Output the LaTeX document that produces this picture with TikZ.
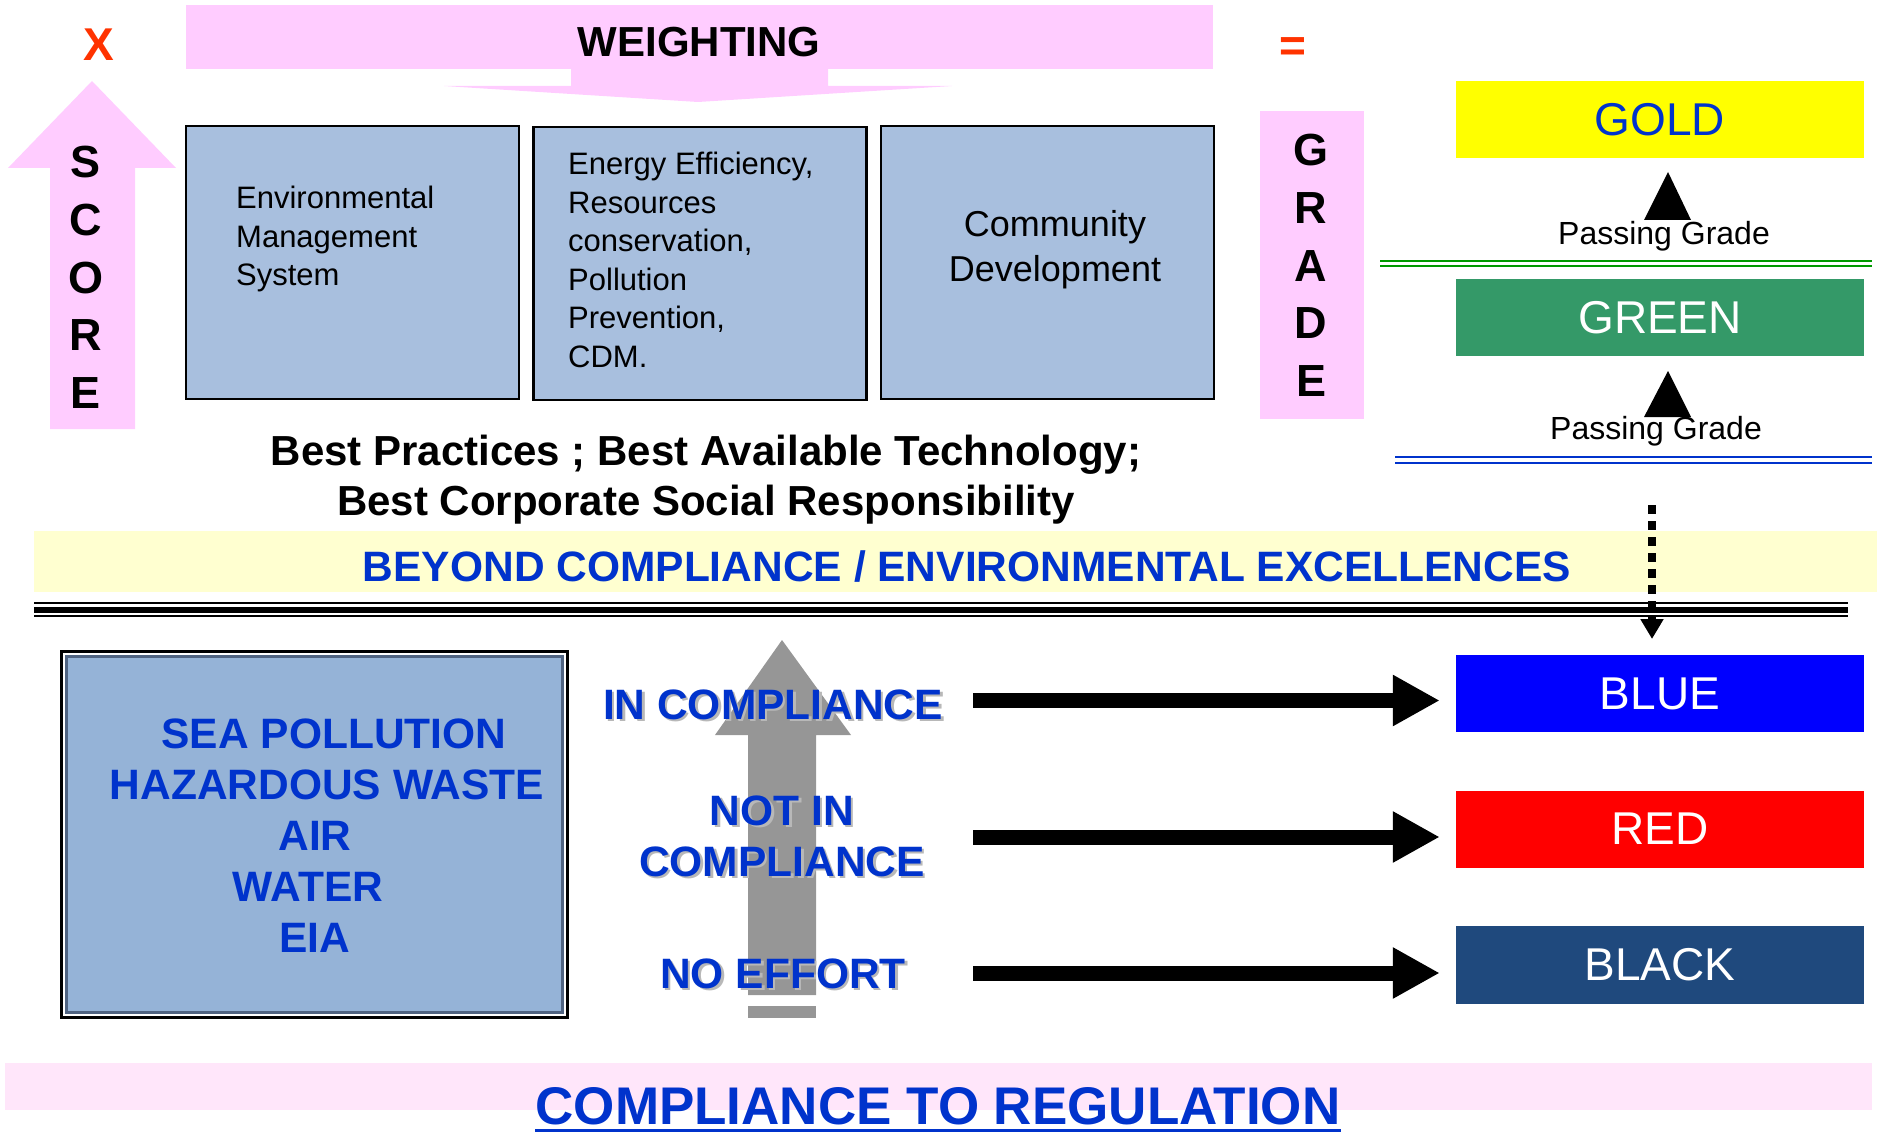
\documentclass[tikz,border=0pt]{standalone}
\usepackage{fontspec}
\setmainfont{Liberation Sans}
\usepackage{xcolor}
\usepackage{tikz}
\usetikzlibrary{arrows.meta, positioning, calc}

\definecolor{weightpink}{RGB}{255,204,255}
\definecolor{boxblue}{RGB}{168,191,222}
\definecolor{lawblue}{RGB}{149,179,215}
\definecolor{lawedge}{RGB}{80,100,130}
\definecolor{textblue}{RGB}{0,51,204}
\definecolor{beyondyellow}{RGB}{255,255,208}
\definecolor{regpink}{RGB}{255,230,250}
\definecolor{signred}{RGB}{255,51,0}
\definecolor{goldfill}{RGB}{255,255,0}
\definecolor{greenfill}{RGB}{52,153,104}
\definecolor{blackfill}{RGB}{31,73,125}
\definecolor{arrowgray}{RGB}{150,150,150}
\definecolor{linegreen}{RGB}{0,153,0}

\newcommand{\shadowtxt}[1]{\makebox[0pt][l]{\kern2.5pt\raisebox{-2.5pt}{\textcolor{black!28}{#1}}}#1}

\begin{document}
\begin{tikzpicture}[x=1pt,y=-1pt,
    catbox/.style={rectangle,draw=black,line width=2.5pt,fill=boxblue,minimum width=333pt,minimum height=273pt,inner sep=0pt},
    cattxt/.style={inner sep=0pt,align=left,font=\fontsize{31}{38.5}\selectfont},
    gradebox/.style={rectangle,minimum width=408pt,minimum height=77pt,inner sep=0pt,font=\fontsize{46}{52}\selectfont},
    passtxt/.style={inner sep=0pt,font=\fontsize{32}{38}\selectfont},
    levellbl/.style={inner sep=0pt,align=center,text=textblue,font=\fontsize{42.5}{51}\selectfont\bfseries},
    letters/.style={inner sep=0pt,align=center,font=\fontsize{45}{57.75}\selectfont\bfseries},
    sign/.style={inner sep=0pt,text=signred,font=\fontsize{46}{50}\selectfont\bfseries},
    bigarrow/.style={line width=15pt,-{Triangle[length=47pt,width=48pt]},shorten >=16pt}]
    \useasboundingbox (0,0) rectangle (1877,1134);

    % Weighting
    \fill[weightpink] (186,5) rectangle (1213,69);
    \fill[weightpink] (571,69) -- (828,69) -- (828,86) -- (952,86) -- (698,102) -- (444,86) -- (571,86) -- cycle;
    \node[inner sep=0pt,font=\fontsize{42}{50}\selectfont\bfseries] (weighting) at (699,42) {WEIGHTING};

    % Score
    \node[sign] (times) at (99,45) {X};
    \fill[weightpink] (92,81) -- (176,168) -- (135,168) -- (135,429) -- (50,429) -- (50,168) -- (8,168) -- cycle;
    \node[letters] (score) at (86,277.5) {S\\C\\O\\R\\E};

    % Criteri
    \node[catbox] (ems) at (352.5,262.5) {};
    \node[cattxt,anchor=west] (emstxt) at (236,239) {Environmental\\Management\\System};
    \node[catbox] (energy) at (700,263.5) {};
    \node[cattxt,anchor=west] (energytxt) at (568,260) {Energy Efficiency,\\Resources\\conservation,\\Pollution\\Prevention,\\CDM.};
    \node[catbox] (community) at (1047.5,262.5) {};
    \node[cattxt,align=center,font=\fontsize{36}{45}\selectfont] (communitytxt) at (1055,249.5) {Community\\Development};

    % Grade
    \node[sign] (equals) at (1293,50) {=};
    \node[rectangle,fill=weightpink,minimum width=104pt,minimum height=308pt] (grade) at (1312,265) {};
    \node[letters] (gradetxt) at (1311,265.5) {G\\R\\A\\D\\E};

    % Best practices
    \node[inner sep=0pt,align=center,font=\fontsize{42}{50}\selectfont\bfseries] (bestpract) at (706,480) {Best Practices ; Best Available Technology;\\Best Corporate Social Responsibility};

    % Gold / Green
    \node[gradebox,fill=goldfill,text=textblue] (ggold) at (1660,119.5) {GOLD};
    \fill (1668,172) -- (1691,220) -- (1644,220) -- cycle;
    \node[passtxt] (pass1) at (1664,236) {Passing Grade};
    \draw[linegreen,line width=2pt] (1380,261) -- (1872,261) (1380,266) -- (1872,266);
    \node[gradebox,fill=greenfill,text=white] (ggreen) at (1660,317.5) {GREEN};
    \fill (1668,371) -- (1691,417) -- (1644,417) -- cycle;
    \node[passtxt] (pass2) at (1656,431) {Passing Grade};
    \draw[textblue,line width=2pt] (1395,457) -- (1872,457) (1395,463) -- (1872,463);

    % Beyond compliance
    \fill[beyondyellow] (34,531) rectangle (1877,592);
    \node[inner sep=0pt,text=textblue,font=\fontsize{42.5}{50}\selectfont\bfseries] (beyond) at (967,567) {BEYOND COMPLIANCE / ENVIRONMENTAL EXCELLENCES};
    \draw[line width=2.5pt] (34,603) -- (1848,603);
    \draw[line width=6pt] (34,610) -- (1848,610);
    \draw[line width=2.5pt] (34,616) -- (1848,616);
    \coordinate (dottop) at (1652,505);
    \coordinate (dotend) at (1652,639);
    \draw[line width=8pt,dash pattern=on 9pt off 7pt,-{Triangle[length=20pt,width=22pt]}] (dottop) -- (dotend);

    % Regulations
    \node[rectangle,draw=black,line width=3pt,fill=white,minimum width=506pt,minimum height=366pt] (lawframe) at (314.5,834.5) {};
    \node[rectangle,draw=lawedge,line width=2.5pt,fill=lawblue,minimum width=496pt,minimum height=356pt] (lawbox) at (314.5,834.5) {};
    \node[levellbl] (lawtxt) at (323,836) {\hspace*{22pt}SEA POLLUTION\\\hspace*{8pt}HAZARDOUS WASTE\\\hspace*{-16pt}AIR\\\hspace*{-30pt}WATER\\\hspace*{-16pt}EIA};

    % Compliance levels
    \fill[arrowgray] (782,640) -- (851,735) -- (816,735) -- (816,995) -- (748,995) -- (748,735) -- (715,735) -- cycle;
    \fill[arrowgray] (748,1006) rectangle (816,1018);
    \node[levellbl] (incomp) at (773,706) {\shadowtxt{IN COMPLIANCE}};
    \node[levellbl] (notincomp) at (782,837.5) {\shadowtxt{NOT IN}\\\shadowtxt{COMPLIANCE}};
    \node[levellbl] (noeffort) at (783,975) {\shadowtxt{NO EFFORT}};

    \node[gradebox,fill=blue,text=white] (gblue) at (1660,693.5) {BLUE};
    \node[gradebox,fill=red,text=white] (gred) at (1660,829) {RED};
    \node[gradebox,fill=blackfill,text=white,minimum height=78pt] (gblack) at (1660,965) {BLACK};

    \coordinate (from1) at (973,700.5);
    \coordinate (from2) at (973,837);
    \coordinate (from3) at (973,973);
    \draw[bigarrow] (from1) -- (from1 -| gblue.west);
    \draw[bigarrow] (from2) -- (from2 -| gred.west);
    \draw[bigarrow] (from3) -- (from3 -| gblack.west);

    % Compliance to regulation
    \fill[regpink] (5,1063) rectangle (1872,1110);
    \node[inner sep=0pt,text=textblue,font=\fontsize{53}{60}\selectfont\bfseries] (regulation) at (938,1106) {COMPLIANCE TO REGULATION};
    \draw[textblue,line width=3pt] ([yshift=-6pt]regulation.south west) -- ([yshift=-6pt]regulation.south east);
\end{tikzpicture}
\end{document}
